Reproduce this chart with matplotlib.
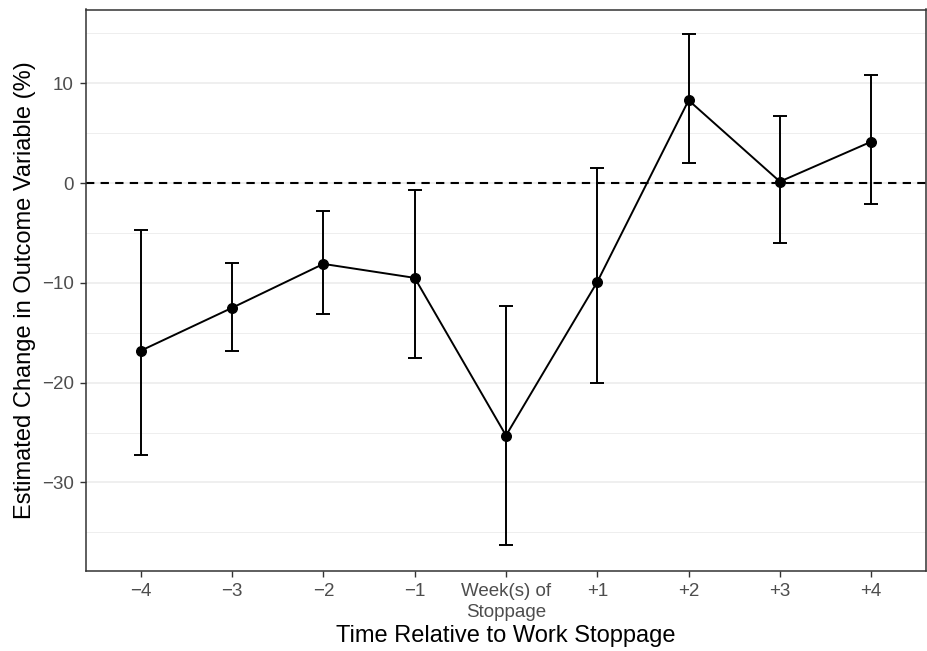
import matplotlib
matplotlib.use('Agg')
import matplotlib.pyplot as plt
from matplotlib.ticker import MultipleLocator

plt.rcParams['font.family'] = ['Liberation Sans', 'DejaVu Sans']

# data
periods = ['\u22124', '\u22123', '\u22122', '\u22121', 'Week(s) of\nStoppage', '+1', '+2', '+3', '+4']
estimate = [-16.8, -12.5, -8.1, -9.5, -25.3, -9.9, 8.3, 0.15, 4.15]
ci_low = [-27.3, -16.8, -13.1, -17.5, -36.3, -20.0, 2.0, -6.0, -2.1]
ci_high = [-4.7, -8.05, -2.8, -0.7, -12.35, 1.5, 14.9, 6.75, 10.8]

x = list(range(1, len(periods) + 1))
err_lo = [e - l for e, l in zip(estimate, ci_low)]
err_hi = [h - e for e, h in zip(estimate, ci_high)]

fig = plt.figure(figsize=(9.27, 6.51), dpi=100)
ax = fig.add_axes([86 / 927, 80.3 / 651, 840 / 927, 561.2 / 651])

# gridlines (horizontal only, ggplot theme_bw style)
ax.set_axisbelow(True)
ax.yaxis.set_major_locator(MultipleLocator(10))
ax.yaxis.set_minor_locator(MultipleLocator(5))
ax.grid(axis='y', which='major', color='#EBEBEB', linewidth=1.1)
ax.grid(axis='y', which='minor', color='#EBEBEB', linewidth=0.6)

ax.axhline(0, color='black', linewidth=1.5, linestyle=(0, (4, 3)), zorder=2)

ax.errorbar(x, estimate, yerr=[err_lo, err_hi], fmt='none', ecolor='black',
            elinewidth=1.4, capsize=5.3, capthick=1.4, zorder=3)
ax.plot(x, estimate, color='black', linewidth=1.4, zorder=4)
ax.scatter(x, estimate, s=48, color='black', zorder=5)

ax.set_xlim(0.4, 9.6)
ax.set_ylim(-38.85, 17.4)
ax.set_xticks(x)
ax.set_xticklabels(periods, linespacing=1.3)
ax.tick_params(axis='y', which='minor', length=0)
ax.tick_params(axis='both', which='major', length=4.2, width=1.0, color='#333333',
               labelcolor='#4D4D4D', labelsize=13.5, pad=4.5)

for s in ax.spines.values():
    s.set_color('#333333')
    s.set_linewidth(1.1)

ax.set_xlabel('Time Relative to Work Stoppage', fontsize=17, labelpad=3)
ax.set_ylabel('Estimated Change in Outcome Variable (%)', fontsize=17, labelpad=4)

fig.savefig('out.png', dpi=100, facecolor='white')
